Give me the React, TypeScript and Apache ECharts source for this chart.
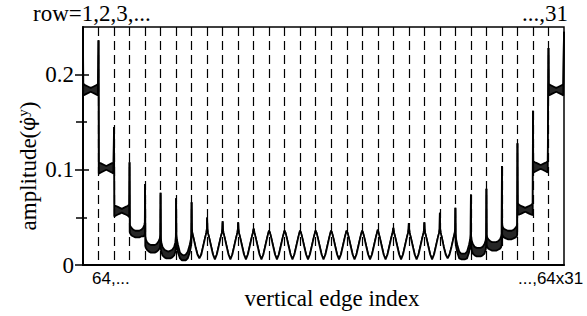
import React, { useEffect, useRef } from 'react';
import * as echarts from 'echarts';

// ---- data ----
const ROW_COUNT = 31;
const ROW_LENGTH = 64;
// sample positions inside one row (edge index offset from the row start)
const rowOffsets = [0, 1, 3, 8, 16, 24, 32, 40, 48, 56, 61, 63, 64];

// upper envelope / main curve of |phi^y| for each row 1..31
const rowUpper: number[][] = [
  [0.245, 0.191, 0.19, 0.189, 0.188, 0.187, 0.186, 0.187, 0.188, 0.189, 0.19, 0.191, 0.236],
  [0.236, 0.108, 0.107, 0.107, 0.106, 0.105, 0.104, 0.105, 0.106, 0.107, 0.107, 0.108, 0.145],
  [0.145, 0.063, 0.062, 0.062, 0.061, 0.06, 0.059, 0.06, 0.061, 0.062, 0.063, 0.064, 0.108],
  [0.108, 0.042, 0.041, 0.039, 0.037, 0.036, 0.036, 0.036, 0.037, 0.039, 0.042, 0.045, 0.085],
  [0.085, 0.03, 0.027, 0.024, 0.022, 0.021, 0.021, 0.021, 0.022, 0.025, 0.028, 0.032, 0.076],
  [0.076, 0.028, 0.024, 0.019, 0.016, 0.015, 0.014, 0.015, 0.016, 0.019, 0.024, 0.03, 0.07],
  [0.07, 0.032, 0.027, 0.021, 0.013, 0.011, 0.01, 0.011, 0.014, 0.021, 0.027, 0.033, 0.066],
  [0.066, 0.038, 0.033, 0.028, 0.019, 0.011, 0.007, 0.011, 0.02, 0.029, 0.034, 0.038, 0.05],
  [0.05, 0.038, 0.034, 0.029, 0.02, 0.011, 0.006, 0.011, 0.02, 0.029, 0.034, 0.038, 0.046],
  [0.046, 0.038, 0.034, 0.029, 0.02, 0.011, 0.006, 0.011, 0.02, 0.029, 0.034, 0.038, 0.045],
  [0.045, 0.038, 0.034, 0.029, 0.02, 0.011, 0.006, 0.011, 0.02, 0.029, 0.034, 0.037, 0.038],
  [0.038, 0.037, 0.034, 0.029, 0.02, 0.011, 0.006, 0.011, 0.02, 0.029, 0.034, 0.036, 0.036],
  [0.036, 0.036, 0.034, 0.029, 0.02, 0.011, 0.006, 0.011, 0.02, 0.029, 0.034, 0.036, 0.036],
  [0.036, 0.036, 0.034, 0.029, 0.02, 0.011, 0.006, 0.011, 0.02, 0.029, 0.034, 0.036, 0.036],
  [0.036, 0.036, 0.034, 0.029, 0.02, 0.011, 0.006, 0.011, 0.02, 0.029, 0.034, 0.036, 0.036],
  [0.036, 0.036, 0.034, 0.029, 0.02, 0.011, 0.006, 0.011, 0.02, 0.029, 0.034, 0.036, 0.036],
  [0.036, 0.036, 0.034, 0.029, 0.02, 0.011, 0.006, 0.011, 0.02, 0.029, 0.034, 0.036, 0.036],
  [0.036, 0.036, 0.034, 0.029, 0.02, 0.011, 0.006, 0.011, 0.02, 0.029, 0.034, 0.036, 0.036],
  [0.036, 0.036, 0.034, 0.029, 0.02, 0.011, 0.006, 0.011, 0.02, 0.029, 0.034, 0.036, 0.037],
  [0.037, 0.036, 0.034, 0.029, 0.02, 0.011, 0.006, 0.011, 0.02, 0.029, 0.034, 0.037, 0.039],
  [0.039, 0.037, 0.034, 0.029, 0.02, 0.011, 0.006, 0.011, 0.02, 0.029, 0.034, 0.038, 0.044],
  [0.044, 0.038, 0.034, 0.029, 0.02, 0.011, 0.006, 0.011, 0.02, 0.029, 0.034, 0.038, 0.045],
  [0.045, 0.038, 0.034, 0.029, 0.02, 0.011, 0.006, 0.011, 0.02, 0.029, 0.034, 0.038, 0.055],
  [0.055, 0.038, 0.034, 0.029, 0.019, 0.011, 0.007, 0.011, 0.019, 0.028, 0.033, 0.038, 0.06],
  [0.06, 0.033, 0.027, 0.021, 0.014, 0.012, 0.012, 0.012, 0.014, 0.021, 0.027, 0.032, 0.074],
  [0.074, 0.03, 0.026, 0.022, 0.019, 0.018, 0.018, 0.018, 0.019, 0.022, 0.026, 0.031, 0.08],
  [0.08, 0.032, 0.029, 0.027, 0.025, 0.024, 0.024, 0.024, 0.025, 0.027, 0.03, 0.033, 0.104],
  [0.104, 0.042, 0.04, 0.038, 0.037, 0.036, 0.036, 0.036, 0.037, 0.039, 0.041, 0.043, 0.128],
  [0.128, 0.065, 0.064, 0.063, 0.062, 0.061, 0.06, 0.061, 0.062, 0.063, 0.064, 0.065, 0.162],
  [0.162, 0.109, 0.109, 0.108, 0.107, 0.106, 0.105, 0.106, 0.107, 0.108, 0.109, 0.109, 0.228],
  [0.228, 0.19, 0.19, 0.189, 0.188, 0.187, 0.186, 0.187, 0.188, 0.189, 0.19, 0.19, 0.245],
];

// lower envelope of the noisy band in the outer rows (row number -> values)
const rowLowerEdge: Record<number, number[]> = {
  1: [0.245, 0.178, 0.178, 0.179, 0.18, 0.181, 0.182, 0.181, 0.18, 0.179, 0.178, 0.178, 0.236],
  2: [0.236, 0.096, 0.096, 0.097, 0.098, 0.099, 0.1, 0.099, 0.098, 0.097, 0.096, 0.096, 0.145],
  3: [0.145, 0.051, 0.051, 0.052, 0.053, 0.054, 0.055, 0.054, 0.053, 0.052, 0.051, 0.05, 0.108],
  4: [0.108, 0.034, 0.033, 0.031, 0.03, 0.029, 0.029, 0.029, 0.03, 0.03, 0.031, 0.033, 0.085],
  5: [0.085, 0.02, 0.018, 0.016, 0.014, 0.013, 0.013, 0.013, 0.014, 0.016, 0.018, 0.021, 0.076],
  6: [0.076, 0.017, 0.014, 0.01, 0.008, 0.007, 0.007, 0.007, 0.008, 0.01, 0.014, 0.019, 0.07],
  7: [0.07, 0.023, 0.019, 0.013, 0.007, 0.005, 0.005, 0.005, 0.007, 0.013, 0.019, 0.024, 0.066],
  25: [0.06, 0.024, 0.019, 0.013, 0.007, 0.006, 0.006, 0.006, 0.007, 0.013, 0.019, 0.023, 0.074],
  26: [0.074, 0.02, 0.016, 0.012, 0.01, 0.009, 0.009, 0.009, 0.01, 0.012, 0.016, 0.02, 0.08],
  27: [0.08, 0.021, 0.019, 0.017, 0.016, 0.015, 0.015, 0.015, 0.016, 0.017, 0.019, 0.022, 0.104],
  28: [0.104, 0.032, 0.031, 0.029, 0.028, 0.027, 0.027, 0.027, 0.028, 0.029, 0.03, 0.032, 0.128],
  29: [0.128, 0.054, 0.053, 0.053, 0.054, 0.055, 0.056, 0.055, 0.054, 0.053, 0.053, 0.052, 0.162],
  30: [0.162, 0.097, 0.097, 0.098, 0.099, 0.1, 0.101, 0.1, 0.099, 0.098, 0.097, 0.097, 0.228],
  31: [0.228, 0.178, 0.178, 0.179, 0.18, 0.181, 0.182, 0.181, 0.18, 0.179, 0.178, 0.178, 0.245],
};

const yLabelValues = [0, 0.1, 0.2];
const yMajorTicks = [0.1, 0.2];
const yMinorTicks = [0.05, 0.15];
const Y_MAX = 0.25;

function buildPoints(useLower: boolean): number[][] {
  const pts: number[][] = [];
  for (let r = 0; r < ROW_COUNT; r++) {
    const vals = useLower && rowLowerEdge[r + 1] ? rowLowerEdge[r + 1] : rowUpper[r];
    rowOffsets.forEach((off, i) => {
      pts.push([r * ROW_LENGTH + off, vals[i]]);
    });
  }
  return pts;
}

const SERIF = 'Liberation Serif, Times New Roman, serif';
const SANS = 'Liberation Sans, Arial, sans-serif';

export default function App() {
  const ref = useRef<HTMLDivElement>(null);
  useEffect(() => {
    if (!ref.current) return;
    const chart = echarts.init(ref.current, undefined, { renderer: 'svg' });
    const tickStyle = { color: '#000', width: 1.5 };
    const hiddenAxis = { show: false };
    const option: any = {
      animation: false,
      backgroundColor: '#fff',
      grid: {
        left: 83, right: 23, top: 27, bottom: 51,
        show: true, borderColor: '#000', borderWidth: 1.5, z: 10,
      },
      xAxis: {
        type: 'value', min: 0, max: ROW_COUNT * ROW_LENGTH, interval: ROW_LENGTH,
        z: 10,
        axisLine: { show: true, lineStyle: { color: '#000', width: 2 } },
        axisTick: { show: false },
        axisLabel: { show: false },
        splitLine: {
          show: true, showMinLine: false, showMaxLine: false,
          lineStyle: { color: '#000', width: 1.2, type: [9, 5] },
        },
      },
      yAxis: [
        {
          type: 'value', min: 0, max: Y_MAX, position: 'left', z: 10,
          axisLine: { show: true, lineStyle: { color: '#000', width: 2 } },
          axisTick: { show: true, inside: false, length: 8, customValues: yLabelValues, lineStyle: tickStyle },
          axisLabel: {
            show: true, customValues: yLabelValues, margin: 9,
            fontFamily: SERIF, fontSize: 23, color: '#000',
            formatter: (v: number) => (v === 0 ? '0' : String(v)),
          },
          splitLine: hiddenAxis,
        },
        {
          type: 'value', min: 0, max: Y_MAX, position: 'left', z: 10,
          axisLine: hiddenAxis,
          axisTick: { show: true, inside: true, length: 6, customValues: yMajorTicks, lineStyle: tickStyle },
          axisLabel: hiddenAxis, splitLine: hiddenAxis,
        },
        {
          type: 'value', min: 0, max: Y_MAX, position: 'left', z: 10,
          axisLine: hiddenAxis,
          axisTick: { show: true, inside: true, length: 4, customValues: yMinorTicks, lineStyle: tickStyle },
          axisLabel: hiddenAxis, splitLine: hiddenAxis,
        },
        {
          type: 'value', min: 0, max: Y_MAX, position: 'left', z: 10,
          axisLine: hiddenAxis,
          axisTick: { show: true, inside: false, length: 7, customValues: yMinorTicks, lineStyle: tickStyle },
          axisLabel: hiddenAxis, splitLine: hiddenAxis,
        },
      ],
      series: [
        {
          name: 'upper', type: 'line', yAxisIndex: 0, data: buildPoints(false),
          symbol: 'none', z: 2,
          lineStyle: { color: '#000', width: 1.8 },
          areaStyle: { color: '#262626', opacity: 1 },
        },
        {
          name: 'lower', type: 'line', yAxisIndex: 0, data: buildPoints(true),
          symbol: 'none', z: 3,
          lineStyle: { color: '#000', width: 1.8 },
          areaStyle: { color: '#fff', opacity: 1 },
        },
      ],
      graphic: [
        { type: 'text', left: 33, top: 2, style: { text: 'row=1,2,3,...', font: `23px ${SERIF}`, fill: '#000' } },
        { type: 'text', right: 19, top: 2, style: { text: '...,31', font: `23px ${SERIF}`, fill: '#000' } },
        { type: 'text', left: 92, top: 270, style: { text: '64,...', font: `17px ${SANS}`, fill: '#000' } },
        { type: 'text', left: 518, top: 270, style: { text: '...,64x31', font: `17px ${SANS}`, fill: '#000' } },
        {
          type: 'text', x: 332, y: 298,
          style: { text: 'vertical edge index', font: `23px ${SERIF}`, fill: '#000', align: 'center', verticalAlign: 'middle' },
        },
        {
          type: 'text', x: 28, y: 166, rotation: Math.PI / 2,
          style: {
            text: '{n|amplitude(}{p|\u03C6\u0307}{s|y}{n|)}',
            align: 'center', verticalAlign: 'middle', fill: '#000',
            rich: {
              n: { fontFamily: SERIF, fontSize: 23, fill: '#000' },
              p: { fontFamily: 'DejaVu Serif', fontSize: 20, fill: '#000' },
              s: { fontFamily: SERIF, fontSize: 15, fill: '#000', verticalAlign: 'top', padding: [0, 0, 10, 0] },
            },
          },
        },
      ],
    };
    chart.setOption(option);
    return () => chart.dispose();
  }, []);
  return <div ref={ref} style={{ position: 'fixed', left: 0, top: 0, width: 587, height: 316 }} />;
}
